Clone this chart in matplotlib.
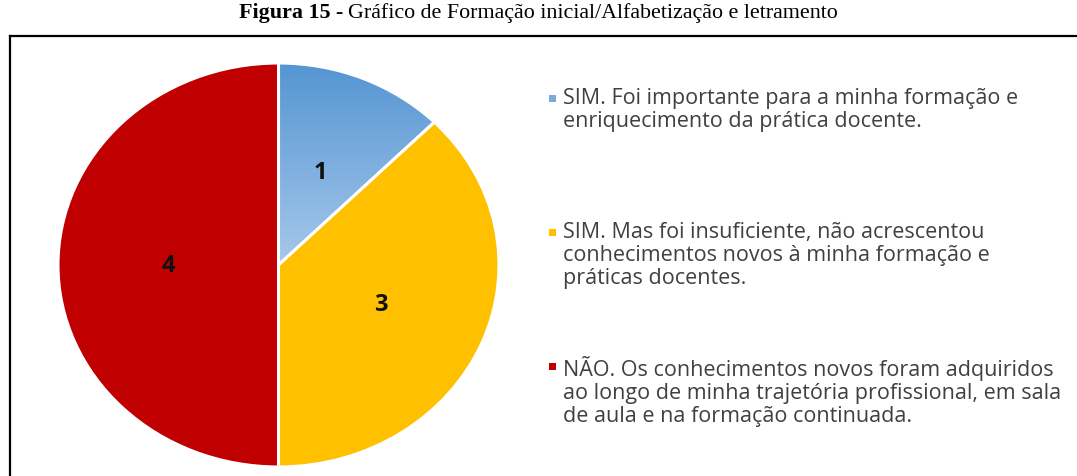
import matplotlib
matplotlib.use("Agg")
import matplotlib.pyplot as plt
import numpy as np
from matplotlib.patches import Rectangle
from matplotlib.lines import Line2D
from matplotlib.colors import LinearSegmentedColormap

# ---- data ----
categories = [
    "SIM. Foi importante para a minha formação e\nenriquecimento da prática docente.",
    "SIM. Mas foi insuficiente, não acrescentou\nconhecimentos novos à minha formação e\npráticas docentes.",
    "NÃO. Os conhecimentos novos foram adquiridos\nao longo de minha trajetória profissional, em sala\nde aula e na formação continuada.",
]
values = [1, 3, 4]
colors = ["#6FA6DB", "#FFC000", "#C00000"]
legend_marker_colors = ["#7EA9DA", "#FFC000", "#C00000"]
title_bold = "Figura 15 - "
title_regular = "Gráfico de Formação inicial/Alfabetização e letramento"

W, H = 1077, 477
fig = plt.figure(figsize=(W / 100, H / 100), dpi=100)
fig.patch.set_facecolor("white")

def fx(px):
    return px / W

def fy(py):
    return 1 - py / H

# ---- frame (top and left lines) ----
fig.add_artist(Line2D([fx(10), 1.0], [fy(37), fy(37)], color="black", lw=1.6,
                      transform=fig.transFigure))
fig.add_artist(Line2D([fx(10), fx(10)], [fy(37), 0.0], color="black", lw=1.6,
                      transform=fig.transFigure))

# ---- title ----
renderer = fig.canvas.get_renderer()
tfont = "Liberation Serif"
tsize = 15.8
t1 = fig.text(0, fy(13), title_bold, fontfamily=tfont, fontweight="bold",
              fontsize=tsize, va="center", ha="left")
t2 = fig.text(0, fy(13), title_regular, fontfamily=tfont, fontsize=tsize,
              va="center", ha="left")
w1 = t1.get_window_extent(renderer).width
w2 = t2.get_window_extent(renderer).width
start = (W - (w1 + w2)) / 2
t1.set_x(start / W)
t2.set_x((start + w1) / W)

# ---- pie (elliptical, as in the reference) ----
left, right, top, bottom = 58, 499, 64, 468
ax = fig.add_axes([fx(left), fy(bottom), fx(right - left), (bottom - top) / H])
wedges, texts, autotexts = ax.pie(
    values, colors=colors, startangle=90, counterclock=False,
    autopct=lambda p: f"{int(round(p * sum(values) / 100))}",
    pctdistance=0.5, radius=1,
    wedgeprops=dict(edgecolor="white", linewidth=2.2),
    textprops=dict(fontsize=17, fontweight="bold", color="#111111",
                   fontfamily="Open Sans"),
)
ax.set_aspect("auto")
ax.axis("off")

# gradient fill for the blue slice
grad = np.linspace(0, 1, 256).reshape(-1, 1)
cmap = LinearSegmentedColormap.from_list("bl", ["#A6C8EA", "#5595D3"])
im = ax.imshow(grad, cmap=cmap, extent=(0, 1, 0, 1), origin="lower",
               aspect="auto", zorder=wedges[0].get_zorder() - 0.01)
im.set_clip_path(wedges[0])
wedges[0].set_facecolor("none")
ax.set_xlim(-1, 1)
ax.set_ylim(-1, 1)

# ---- legend ----
lfont = "Open Sans"
lsize = 15.5
first_line_y = [98, 232, 366]
for cat, col, y in zip(categories, legend_marker_colors, first_line_y):
    fig.text(fx(563), fy(y - 10), cat, fontfamily=lfont, fontsize=lsize,
             color="#404040", va="top", ha="left", linespacing=1.12)
    fig.add_artist(Rectangle((fx(549), fy(y + 5)), fx(7), 7 / H,
                             facecolor=col, edgecolor="none",
                             transform=fig.transFigure))

fig.savefig("out.png", dpi=100)
